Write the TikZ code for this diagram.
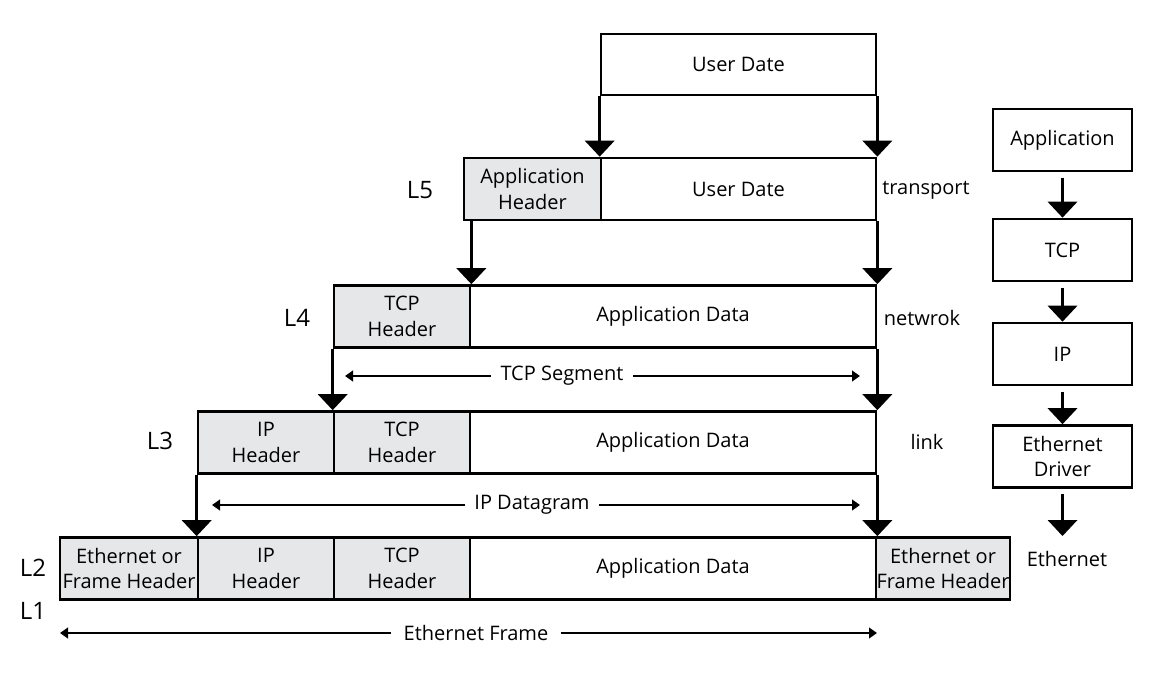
\documentclass[tikz,border=0pt]{standalone}
\usepackage{fontspec}
\setmainfont{Open Sans}
\usetikzlibrary{arrows.meta}
\definecolor{hdrgray}{RGB}{230,231,232}
\tikzset{
  cell/.style={draw, line width=2pt, inner sep=0pt, align=center, minimum height=46.5pt, font=\fontsize{15}{19}\selectfont},
  hdr/.style={cell, fill=hdrgray},
  dat/.style={cell, fill=white},
  stk/.style={cell, fill=white, minimum width=104.25pt},
  lyr/.style={font=\fontsize{18}{20}\selectfont},
  side/.style={font=\fontsize{15}{17}\selectfont},
  down/.style={line width=2pt, -{Triangle[width=22pt,length=12pt]}},
  span/.style={line width=1.5pt, -{Triangle[width=8pt,length=6pt]}},
  spanlbl/.style={fill=white, inner ysep=2pt, inner xsep=7pt, font=\fontsize{15}{17}\selectfont}
}
\begin{document}
\begin{tikzpicture}[x=0.75pt,y=0.75pt,yscale=-1,xscale=1]
\useasboundingbox (0,0) rectangle (1153,696);

% Text Node
\node[dat, minimum width=206.25pt, minimum height=45.75pt] (ud0) at (738.5,64.5) {User Date};
% Text Node
\node[hdr, minimum width=102.75pt] (ah) at (532.5,189) {Application\\Header};
\node[dat, minimum width=206.25pt] (ud1) at (738.5,189) {User Date};
% Text Node
\node[hdr, minimum width=102pt] (tcp4) at (402,316.5) {TCP\\Header};
\node[dat, minimum width=304.5pt] (app4) at (673,316.5) {Application Data};
% Text Node
\node[hdr, minimum width=102pt] (ip3) at (266,442.5) {IP\\Header};
\node[hdr, minimum width=102pt] (tcp3) at (402,442.5) {TCP\\Header};
\node[dat, minimum width=304.5pt] (app3) at (673,442.5) {Application Data};
% Text Node
\node[hdr, minimum width=103.5pt] (eth2) at (129,568.5) {Ethernet or\\Frame Header};
\node[hdr, minimum width=102pt] (ip2) at (266,568.5) {IP\\Header};
\node[hdr, minimum width=102pt] (tcp2) at (402,568.5) {TCP\\Header};
\node[dat, minimum width=304.5pt] (app2) at (673,568.5) {Application Data};
\node[hdr, minimum width=100.5pt] (etht) at (943,568.5) {Ethernet or\\Frame Header};

% Text Node
\node[lyr] (l5) at (420,190) {L5};
\node[lyr] (l4) at (297,318) {L4};
\node[lyr] (l3) at (160,441) {L3};
\node[lyr] (l2) at (33,568) {L2};
\node[lyr] (l1) at (33,611) {L1};
\node[side] (ltr) at (926,190) {transport};
\node[side] (lnw) at (922,318) {netwrok};
\node[side] (llk) at (927,442) {link};

% Connection
\draw[down] (ud0.south west) -- (ud1.north west);
\draw[down] (ud0.south east) -- (ud1.north east);
\draw[down] (ah.south -| tcp4.north east) -- (tcp4.north east);
\draw[down] (ud1.south east) -- (app4.north east);
\draw[down] (tcp4.south west) -- (tcp3.north west);
\draw[down] (app4.south east) -- (app3.north east);
\draw[down] (ip3.south west) -- (ip2.north west);
\draw[down] (app3.south east) -- (app2.north east);

% Connection
\coordinate (segL) at (345,376);
\coordinate (segR) at (860,376);
\node[spanlbl] (seg) at (562,376) {TCP Segment};
\draw[span] (seg) -- (segL);
\draw[span] (seg) -- (segR);
% Connection
\coordinate (dgL) at (212,505);
\coordinate (dgR) at (860,505);
\node[spanlbl] (dg) at (532,505) {IP Datagram};
\draw[span] (dg) -- (dgL);
\draw[span] (dg) -- (dgR);
% Connection
\coordinate (frL) at (60,633);
\coordinate (frR) at (877,633);
\node[spanlbl, inner xsep=9pt] (fr) at (476,633) {Ethernet Frame};
\draw[span] (fr) -- (frL);
\draw[span] (fr) -- (frR);

% Text Node
\node[stk] (sapp) at (1062.5,140) {Application};
\node[stk] (stcp) at (1062.5,250) {TCP};
\node[stk] (sip) at (1062.5,354) {IP};
\node[stk] (sdrv) at (1062.5,456.5) {Ethernet\\Driver};
\node[side] (leth) at (1067,559) {Ethernet};
\coordinate (send) at (1062.5,536);
% Connection
\draw[down, shorten <=4pt] (sapp) -- (stcp);
\draw[down, shorten <=4pt] (stcp) -- (sip);
\draw[down, shorten <=4pt] (sip) -- (sdrv);
\draw[down, shorten <=4pt] (sdrv) -- (send);

\end{tikzpicture}
\end{document}
